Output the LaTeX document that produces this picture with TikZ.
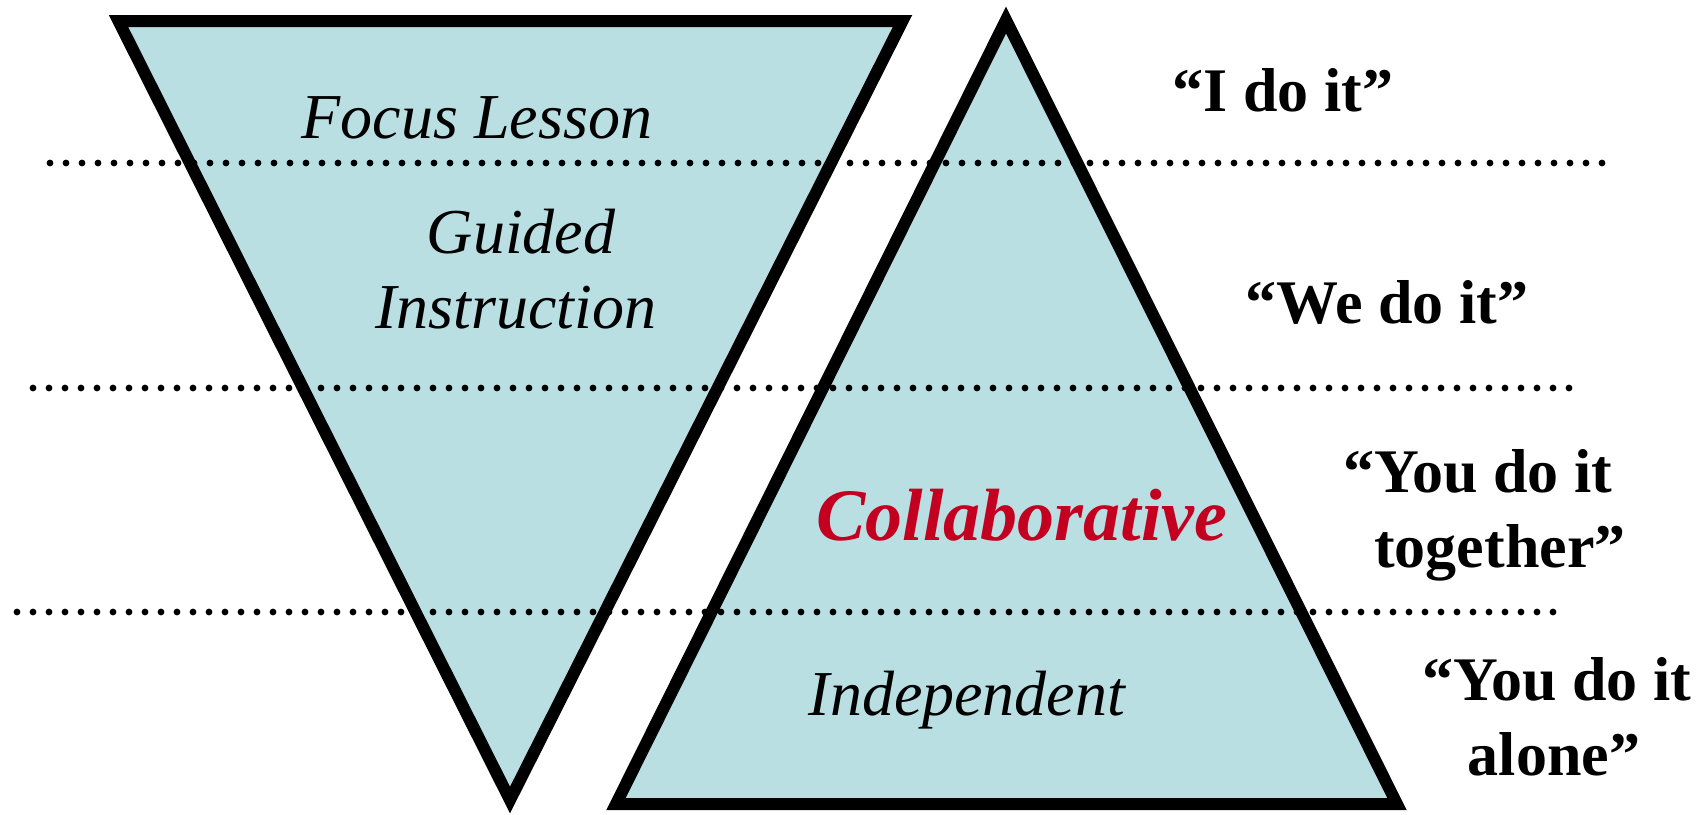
\documentclass[tikz,border=0pt]{standalone}
\usepackage{fontspec}
\setmainfont{Liberation Serif}
\definecolor{fillblue}{RGB}{186,223,227}
\definecolor{collred}{RGB}{196,0,32}
\tikzset{
  tri/.style={draw=black, fill=fillblue, line width=6pt, line join=miter},
  dotline/.style={line width=3.4pt, line cap=round, dash pattern=on 0pt off 8pt},
  inlabel/.style={anchor=base, inner sep=0pt, font=\fontsize{32}{38}\selectfont\itshape},
  collab/.style={anchor=base, inner sep=0pt, text=collred, font=\fontsize{37}{44}\selectfont\bfseries\itshape},
  sidelabel/.style={anchor=base, inner sep=0pt, font=\fontsize{31}{37}\selectfont\bfseries}
}
\begin{document}
\begin{tikzpicture}[x=0.5pt,y=-0.5pt]
\useasboundingbox (0,0) rectangle (1708,814);
% triangles
\draw[tri] (118.5,21) -- (902.5,21) -- (510,800) -- cycle;
\draw[tri] (1006,20) -- (1397,804) -- (616,804) -- cycle;
% dotted lines
\coordinate (d1a) at (50,163);  \coordinate (d1b) at (1608,163);
\coordinate (d2a) at (33,388);  \coordinate (d2b) at (1575,388);
\coordinate (d3a) at (17,612);  \coordinate (d3b) at (1560,612);
\draw[dotline] (d1a) -- (d1b);
\draw[dotline] (d2a) -- (d2b);
\draw[dotline] (d3a) -- (d3b);
% inner labels
\node[inlabel] (focus) at (477,138) {Focus Lesson};
\node[inlabel] (guided) at (521,253) {Guided};
\node[inlabel] (instr) at (516,328) {Instruction};
\node[collab] (collab) at (1022,540) {Collaborative};
\node[inlabel] (indep) at (967,715) {Independent};
% side labels
\node[sidelabel] (ido) at (1283,111) {“I do it”};
\node[sidelabel] (wedo) at (1387,323) {“We do it”};
\node[sidelabel] (youdoA) at (1478,492) {“You do it};
\node[sidelabel] (together) at (1500,567) {together”};
\node[sidelabel] (youdoB) at (1557,700) {“You do it};
\node[sidelabel] (alone) at (1554,775) {alone”};
\end{tikzpicture}
\end{document}
